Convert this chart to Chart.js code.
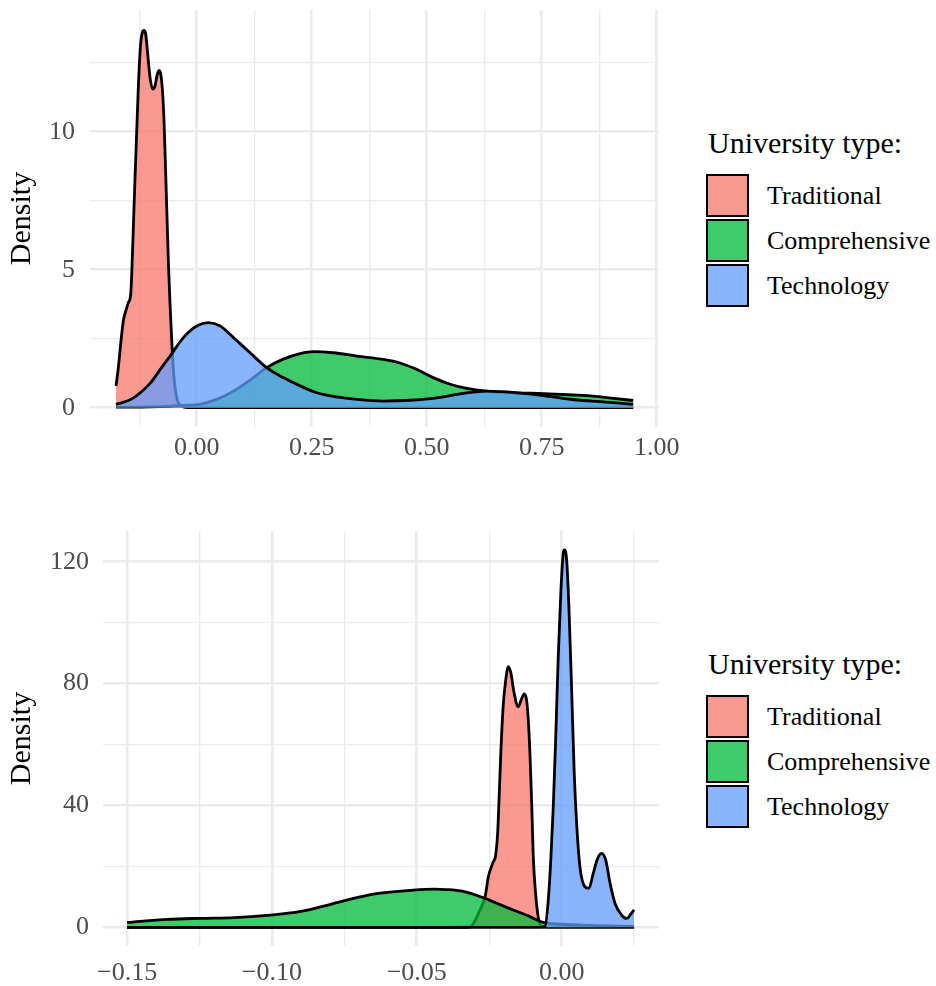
<!DOCTYPE html>
<html lang="en">
<head>
<meta charset="UTF-8">
<title>University type densities</title>
<script src="https://cdn.jsdelivr.net/npm/chart.js"></script>
<style>
  html, body { margin: 0; padding: 0; background: #fff; }
  body { width: 936px; height: 986px; position: relative; overflow: hidden;
         font-family: 'Liberation Serif', 'Times New Roman', serif; }
  canvas { position: absolute; left: 0; }
  #topChart { top: 0; }
  #bottomChart { top: 493px; }
  .legend { position: absolute; left: 706px; color: #000; }
  .legend h3 { margin: 0 0 16px 2px; font-weight: normal; font-size: 30px; line-height: 30px; white-space: nowrap; }
  .legend .item { display: flex; align-items: center; height: 43px; margin-bottom: 2px; }
  .legend .key { width: 43px; height: 43px; box-sizing: border-box; border: 2px solid #000; }
  .legend .name { margin-left: 18px; font-size: 26px; line-height: 26px; white-space: nowrap; }
</style>
</head>
<body>
<canvas id="topChart" width="700" height="493"></canvas>
<canvas id="bottomChart" width="700" height="493"></canvas>
<div class="legend" id="topLegend" style="top:128px"></div>
<div class="legend" id="bottomLegend" style="top:649px"></div>

<script>
// series
const seriesNames = ['Traditional', 'Comprehensive', 'Technology'];
const fillColors = ['rgba(248,118,109,0.75)', 'rgba(0,186,56,0.75)', 'rgba(97,156,255,0.75)'];
const legendTitle = 'University type:';

// top panel
const topTradX = [-0.1754, -0.1704, -0.1646, -0.1596, -0.1543, -0.1487, -0.1435, -0.1413, -0.1378, -0.1341, -0.1304, -0.1270, -0.1226, -0.1183, -0.1146, -0.1109, -0.1065, -0.1015, -0.0957, -0.0907, -0.0857, -0.0813, -0.0776, -0.0739, -0.0711, -0.0683, -0.0652, -0.0617, -0.0580, -0.0543, -0.0500, -0.0435, -0.0326, -0.020, 0.2, 0.5, 0.949];
const topTradY = [0.79, 1.45, 2.42, 3.14, 3.50, 3.80, 4.11, 4.83, 6.52, 8.33, 10.03, 11.59, 13.04, 13.59, 13.67, 13.53, 12.80, 11.96, 11.54, 11.66, 12.08, 12.22, 12.02, 11.36, 10.39, 8.94, 7.25, 5.32, 3.75, 2.42, 1.21, 0.36, 0.06, 0, 0, 0, 0];

const topCompX = [-0.1754, -0.10, -0.06, -0.03, 0.007, 0.043, 0.08, 0.116, 0.152, 0.188, 0.225, 0.254, 0.297, 0.348, 0.406, 0.442, 0.478, 0.514, 0.551, 0.587, 0.630, 0.696, 0.753, 0.819, 0.862, 0.906, 0.949];
const topCompY = [0.02, 0.03, 0.05, 0.08, 0.12, 0.3, 0.6, 1.0, 1.45, 1.76, 1.96, 2.03, 1.99, 1.87, 1.75, 1.62, 1.39, 1.09, 0.85, 0.70, 0.60, 0.54, 0.51, 0.46, 0.42, 0.34, 0.26];

const topTechX = [-0.1754, -0.141, -0.1015, -0.080, -0.058, -0.029, 0.0, 0.025, 0.051, 0.080, 0.116, 0.152, 0.188, 0.225, 0.261, 0.304, 0.348, 0.406, 0.464, 0.514, 0.587, 0.630, 0.696, 0.753, 0.804, 0.840, 0.877, 0.949];
const topTechY = [0.12, 0.32, 0.88, 1.37, 1.87, 2.54, 2.96, 3.08, 2.96, 2.54, 1.99, 1.45, 1.09, 0.79, 0.54, 0.39, 0.30, 0.24, 0.27, 0.34, 0.54, 0.60, 0.54, 0.44, 0.32, 0.26, 0.22, 0.12];

const topXTickValues = [-0.125, 0, 0.125, 0.25, 0.375, 0.5, 0.625, 0.75, 0.875, 1];
const topXTickLabels = ['', '0.00', '', '0.25', '', '0.50', '', '0.75', '', '1.00'];
const topYTickValues = [0, 2.5, 5, 7.5, 10, 12.5];
const topYTickLabels = ['0', '', '5', '', '10', ''];

// bottom panel
const botTradX = [-0.15, -0.04, -0.0316, -0.0300, -0.0282, -0.0264, -0.0253, -0.0236, -0.0228, -0.0221, -0.0217, -0.0210, -0.0202, -0.0193, -0.0184, -0.0175, -0.0164, -0.0150, -0.0138, -0.0129, -0.0121, -0.0115, -0.0109, -0.0103, -0.0098, -0.0090, -0.0081, -0.0069, -0.0050, 0.025];
const botTradY = [0, 0, 0.1, 2.0, 5.7, 10.1, 16.6, 21.5, 23.5, 30.8, 39.6, 57.1, 72.4, 81.2, 85.6, 83.4, 76.9, 72.4, 75.1, 76.6, 74.5, 67.9, 56.0, 39.6, 23.2, 11.2, 3.5, 0.2, 0, 0];

const botCompX = [-0.15, -0.136, -0.1247, -0.113, -0.1017, -0.090, -0.0788, -0.0672, -0.0626, -0.0512, -0.0440, -0.0397, -0.034, -0.0282, -0.0224, -0.0167, -0.0109, -0.0063, 0.0, 0.01, 0.025];
const botCompY = [1.6, 2.6, 2.95, 3.2, 3.9, 5.2, 7.8, 10.5, 11.2, 12.2, 12.5, 12.4, 11.8, 10.1, 7.9, 5.7, 3.5, 1.6, 1.0, 0.6, 0.3];

const botTechX = [-0.15, -0.0075, -0.00576, -0.00461, -0.00369, -0.00289, -0.00207, -0.00117, -0.00024, 0.00055, 0.0009, 0.00172, 0.0025, 0.00345, 0.00434, 0.00517, 0.0063, 0.0080, 0.0094, 0.0109, 0.0124, 0.0138, 0.0152, 0.0167, 0.0184, 0.0207, 0.0224, 0.0241, 0.025];
const botTechY = [0, 0, 0.2, 9.0, 23.2, 39.6, 61.5, 88.9, 110.8, 122.8, 123.9, 120.6, 105.3, 77.9, 50.6, 34.2, 19.9, 13.3, 12.8, 17.7, 22.6, 24.3, 22.1, 14.5, 7.9, 4.0, 2.9, 4.6, 5.7];

const botXTickValues = [-0.15, -0.125, -0.1, -0.075, -0.05, -0.025, 0, 0.025];
const botXTickLabels = ['\u22120.15', '', '\u22120.10', '', '\u22120.05', '', '0.00', ''];
const botYTickValues = [0, 20, 40, 60, 80, 100, 120];
const botYTickLabels = ['0', '', '40', '', '80', '', '120'];

Chart.defaults.font.family = "'Liberation Serif', 'Times New Roman', serif";

function toPoints(xs, ys) {
    return xs.map((x, i) => ({ x: x, y: ys[i] }));
}

function makeDatasets(seriesX, seriesY) {
    return seriesNames.map((name, i) => ({
        label: name,
        data: toPoints(seriesX[i], seriesY[i]),
        backgroundColor: fillColors[i],
        borderColor: '#000',
        borderWidth: 2.8,
        fill: 'origin',
        pointRadius: 0,
        cubicInterpolationMode: 'monotone',
        order: 3 - i
    }));
}

function makeAxis(values, labels, min, max, extra) {
    return Object.assign({
        type: 'linear',
        min: min,
        max: max,
        afterBuildTicks: s => { s.ticks = values.map(v => ({ value: v })); },
        border: { display: false },
        grid: {
            drawTicks: false,
            color: '#EBEBEB',
            lineWidth: ctx => labels[ctx.index] ? 2.6 : 1.3
        },
        ticks: {
            autoSkip: false,
            maxRotation: 0,
            color: '#4D4D4D',
            font: { size: 26 },
            callback: (v, i) => labels[i]
        }
    }, extra);
}

function makeChart(id, datasets, xAxis, yAxis, padTop) {
    return new Chart(document.getElementById(id), {
        type: 'line',
        data: { datasets: datasets },
        options: {
            responsive: false,
            animation: false,
            devicePixelRatio: 1,
            events: [],
            layout: { padding: { top: padTop, right: 41, bottom: 0, left: 0 } },
            plugins: { legend: { display: false }, tooltip: { enabled: false } },
            scales: { x: xAxis, y: yAxis }
        }
    });
}

// top chart
const topX = makeAxis(topXTickValues, topXTickLabels, -0.232, 1.005, {});
topX.ticks.padding = 6;
topX.afterFit = s => { s.height = 66; s.paddingLeft = 0; s.paddingRight = 0; };
const topY = makeAxis(topYTickValues, topYTickLabels, -0.70, 14.41, {
    title: { display: true, text: 'Density', color: '#000', font: { size: 30 }, padding: { top: 4.5, bottom: 0 } }
});
topY.ticks.padding = 15;
topY.afterFit = s => { s.width = 90; s.paddingTop = 0; s.paddingBottom = 0; };
makeChart('topChart', makeDatasets([topTradX, topCompX, topTechX], [topTradY, topCompY, topTechY]), topX, topY, 10);

// bottom chart
const botX = makeAxis(botXTickValues, botXTickLabels, -0.1583, 0.0336, {});
botX.ticks.padding = 12;
botX.afterFit = s => { s.height = 40; s.paddingLeft = 0; s.paddingRight = 0; };
const botY = makeAxis(botYTickValues, botYTickLabels, -6.14, 130.1, {
    title: { display: true, text: 'Density', color: '#000', font: { size: 30 }, padding: { top: 4.5, bottom: 0 } }
});
botY.ticks.padding = 14;
botY.afterFit = s => { s.width = 103; s.paddingTop = 0; s.paddingBottom = 0; };
makeChart('bottomChart', makeDatasets([botTradX, botCompX, botTechX], [botTradY, botCompY, botTechY]), botX, botY, 38);

// legends
function buildLegend(id) {
    const box = document.getElementById(id);
    const title = document.createElement('h3');
    title.textContent = legendTitle;
    box.appendChild(title);
    seriesNames.forEach((name, i) => {
        const item = document.createElement('div');
        item.className = 'item';
        item.innerHTML = `<div class="key" style="background:${fillColors[i]}"></div><span class="name">${name}</span>`;
        box.appendChild(item);
    });
}
buildLegend('topLegend');
buildLegend('bottomLegend');
</script>
</body>
</html>
